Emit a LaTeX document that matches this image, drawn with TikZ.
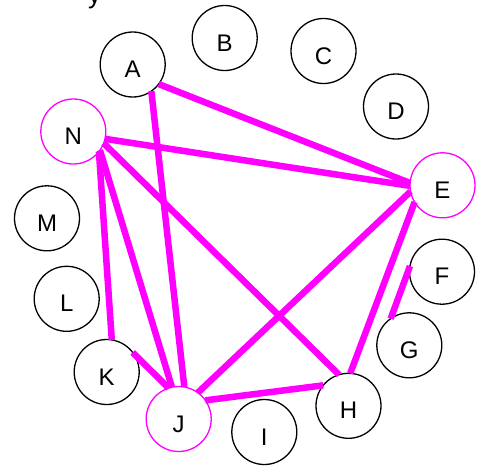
\documentclass[tikz,border=0pt]{standalone}
\usepackage{fontspec}
\setmainfont{Liberation Sans}
\definecolor{mag}{RGB}{255,0,255}
\tikzset{
  vtx/.style={circle, draw=black, line width=1.3pt, minimum size=65pt, inner sep=0pt, outer sep=0pt,
    font=\fontsize{24}{24}\selectfont, text height=26pt, text depth=0pt},
  hot/.style={vtx, draw=mag},
  edge/.style={draw=mag, line width=6.5pt}
}
\begin{document}
\begin{tikzpicture}[x=1pt,y=-1pt]
\useasboundingbox (0,0) rectangle (485,467);
\node[anchor=base west, inner sep=0pt, font=\fontsize{26}{26}\selectfont] (title) at (88,3) {y};
\node[vtx] (A) at (132.7,64.5) {A};
\node[vtx] (B) at (224.7,38) {B};
\node[vtx] (C) at (323.5,51) {C};
\node[vtx] (D) at (396,106.5) {D};
\node[hot] (E) at (442.5,185.3) {E};
\node[vtx] (F) at (442,271.7) {F};
\node[vtx] (G) at (409.3,345.3) {G};
\node[vtx] (H) at (348.5,405.8) {H};
\node[vtx] (I) at (264.3,432) {I};
\node[hot] (J) at (178.7,419) {J};
\node[vtx] (K) at (106.7,372) {K};
\node[vtx] (L) at (66.7,298.8) {L};
\node[vtx] (M) at (47,218.3) {M};
\node[hot] (N) at (73.3,131.5) {N};
\draw[edge] (A.-37) -- (E.176);
\draw[edge] (A.-55) -- (J.80);
\draw[edge] (N.-13) -- (E.181);
\draw[edge] (N.-21) -- (H.107);
\draw[edge] (N.-35) -- (J.102);
\draw[edge] (N.-38) -- (K.81);
\draw[edge] (K.37) -- (J.108);
\draw[edge] (E.191) -- (J.54);
\draw[edge] (E.211) -- (H.87);
\draw[edge] (J.35) -- (H.141);
\draw[edge] (F.170) -- (G.125);
\end{tikzpicture}
\end{document}
